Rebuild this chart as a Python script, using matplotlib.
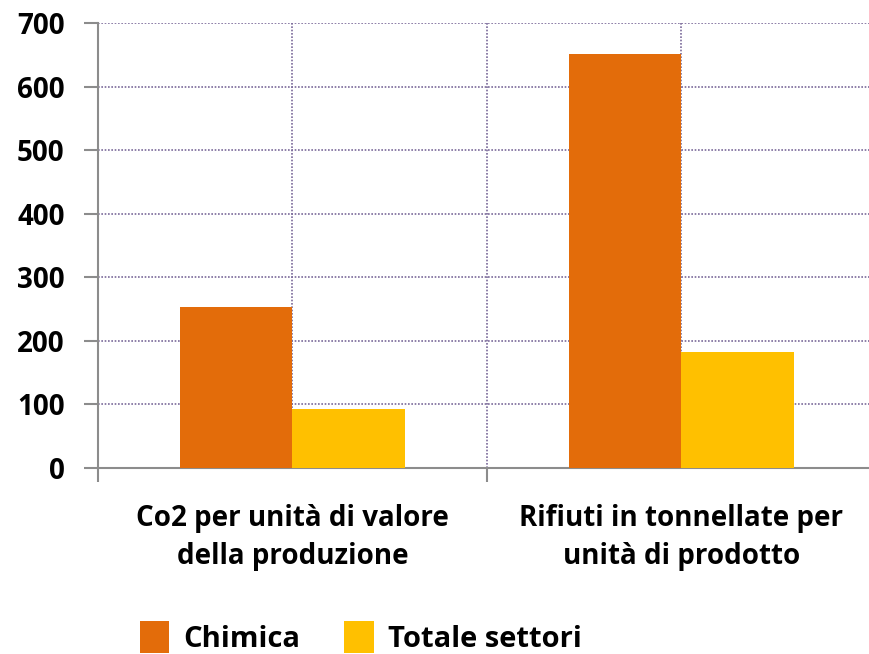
import matplotlib.pyplot as plt
import numpy as np

categories = ["Co2 per unità di valore\ndella produzione", "Rifiuti in tonnellate per\nunità di prodotto"]
chimica = [253, 652]
totale = [93, 182]
series_names = ["Chimica", "Totale settori"]
colors = ["#E36C0A", "#FFC000"]

plt.rcParams['font.family'] = ['Open Sans', 'DejaVu Sans']

fig = plt.figure(figsize=(8.7, 6.54), dpi=100)
ax = fig.add_axes([0.1126, 0.2844, 0.8943, 0.6804])

x = np.arange(len(categories)) + 0.5
w = 0.288
ax.bar(x - w / 2, chimica, w, color=colors[0], label=series_names[0], zorder=3)
ax.bar(x + w / 2, totale, w, color=colors[1], label=series_names[1], zorder=3)

ax.set_xlim(0, 2)
ax.set_ylim(0, 700)
ax.set_yticks(range(0, 701, 100))
ax.set_xticks([0, 1, 2])
ax.set_xticklabels([])

# gridlines
for yv in range(100, 701, 100):
    ax.axhline(yv, color="#7a6a9a", lw=1.2, ls=(0, (1, 1)), zorder=1)
for xv in [0.5, 1, 1.5]:
    ax.axvline(xv, color="#7a6a9a", lw=1.2, ls=(0, (1, 1)), zorder=1)

for s in ["top", "right"]:
    ax.spines[s].set_visible(False)
for s in ["left", "bottom"]:
    ax.spines[s].set_color("#8c8c8c")
    ax.spines[s].set_linewidth(1.5)

ax.tick_params(axis="y", length=10, width=1.5, color="#8c8c8c", pad=14, labelsize=20)
ax.tick_params(axis="x", length=10, width=1.5, color="#8c8c8c")
for lbl in ax.get_yticklabels():
    lbl.set_fontweight("bold")

for xi, cat in zip(x, categories):
    ax.text(xi, -57, cat, ha="center", va="top", fontsize=20, fontweight="bold",
            linespacing=1.4)

leg = fig.legend(loc="lower center", bbox_to_anchor=(0.415, -0.040), ncol=2, frameon=False,
                 prop={"size": 21, "weight": "bold"}, handlelength=1.0, handleheight=1.3,
                 columnspacing=1.5, handletextpad=0.5)

fig.savefig("out.png", dpi=100)
